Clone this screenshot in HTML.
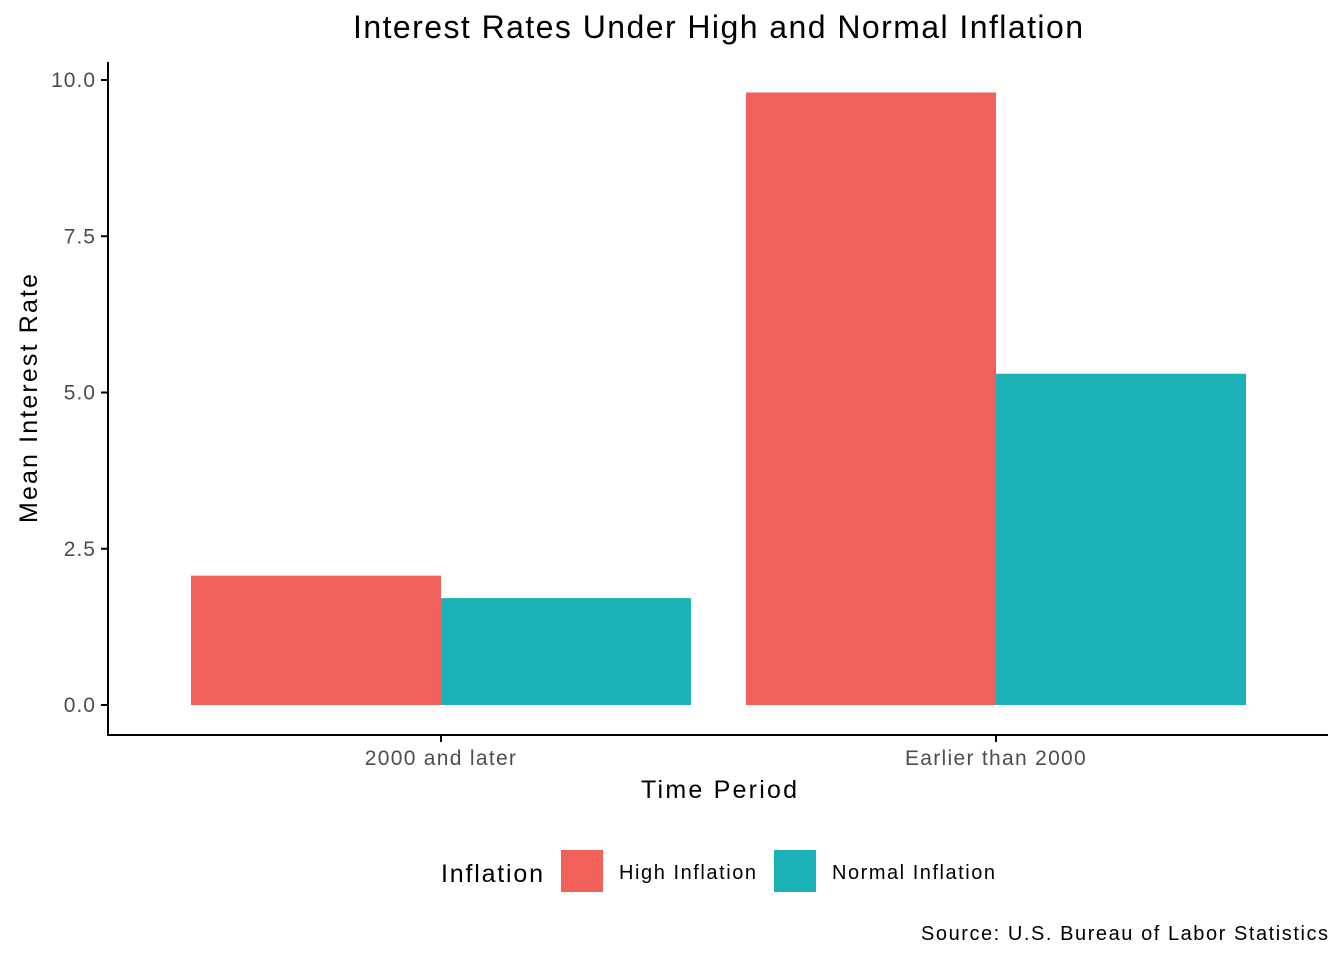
<!DOCTYPE html>
<html><head><meta charset="utf-8"><style>
body{margin:0;background:#fff;}
svg text{font-family:"Liberation Sans",Arial,sans-serif;}
</style></head><body>
<svg id="chart" width="1344" height="960" xmlns="http://www.w3.org/2000/svg">
<text x="353" y="38" font-size="32" textLength="730" lengthAdjust="spacing" fill="#000">Interest Rates Under High and Normal Inflation</text>
<g id="bars"></g>
<g id="yticks"></g>
<g id="xticks"></g>
<line x1="108" y1="62" x2="108" y2="736" stroke="#000" stroke-width="2"/>
<line x1="107" y1="735" x2="1328" y2="735" stroke="#000" stroke-width="2"/>
<text x="641" y="798" font-size="25" textLength="156" lengthAdjust="spacing">Time Period</text>
<text transform="translate(37,523) rotate(-90)" font-size="25" textLength="249" lengthAdjust="spacing">Mean Interest Rate</text>
<g>
<text x="441" y="882" font-size="25" textLength="102" lengthAdjust="spacing">Inflation</text>
<rect x="561" y="850" width="42" height="42" fill="#F2605A"/>
<text x="619" y="879" font-size="20" textLength="137" lengthAdjust="spacing">High Inflation</text>
<rect x="774" y="850" width="42" height="42" fill="#1AB2B7"/>
<text x="832" y="879" font-size="20" textLength="163" lengthAdjust="spacing">Normal Inflation</text>
</g>
<text x="921" y="940" font-size="20" textLength="407" lengthAdjust="spacing">Source: U.S. Bureau of Labor Statistics</text>
</svg>
<script>
const categories=["2000 and later","Earlier than 2000"];
const highValues=[2.07,9.8];
const normalValues=[1.71,5.3];
const yTicks=[0,2.5,5,7.5,10];
const yTickLabels=["0.0","2.5","5.0","7.5","10.0"];
const NS="http://www.w3.org/2000/svg";
const y=v=>705-v*62.5;
const xc=i=>441+i*555;
const bw=250;
const bars=document.getElementById('bars');
function mk(tag,attrs,parent){const e=document.createElementNS(NS,tag);for(const k in attrs)e.setAttribute(k,attrs[k]);parent.appendChild(e);return e;}
categories.forEach((c,i)=>{
  const r1=mk('rect',{x:xc(i)-bw,y:y(highValues[i]),width:bw,height:y(0)-y(highValues[i]),fill:'#F2605A'},bars);
  
  
  const r2=mk('rect',{x:xc(i),y:y(normalValues[i]),width:bw,height:y(0)-y(normalValues[i]),fill:'#1AB2B7'},bars);
  
  
  const xt=document.getElementById('xticks');
  const tl=mk('line',{x1:xc(i),x2:xc(i),y1:735,y2:742,stroke:'#000','stroke-width':2},xt);
  
  
  const tx=mk('text',{x:xc(i),y:765,'font-size':21,'text-anchor':'middle',fill:'#4d4d4d',style:'letter-spacing:1.3px'},xt);
  tx.textContent=c;
  
  
});
const yt=document.getElementById('yticks');
yTicks.forEach((v,i)=>{
  const l=mk('line',{x1:101,x2:108,y1:y(v),y2:y(v),stroke:'#000','stroke-width':2},yt);
  
  
  const t=mk('text',{x:96,y:y(v)+7,'font-size':21,'text-anchor':'end',fill:'#4d4d4d',style:'letter-spacing:1px'},yt);
  t.textContent=yTickLabels[i];
  
  
});
</script>
</body></html>
